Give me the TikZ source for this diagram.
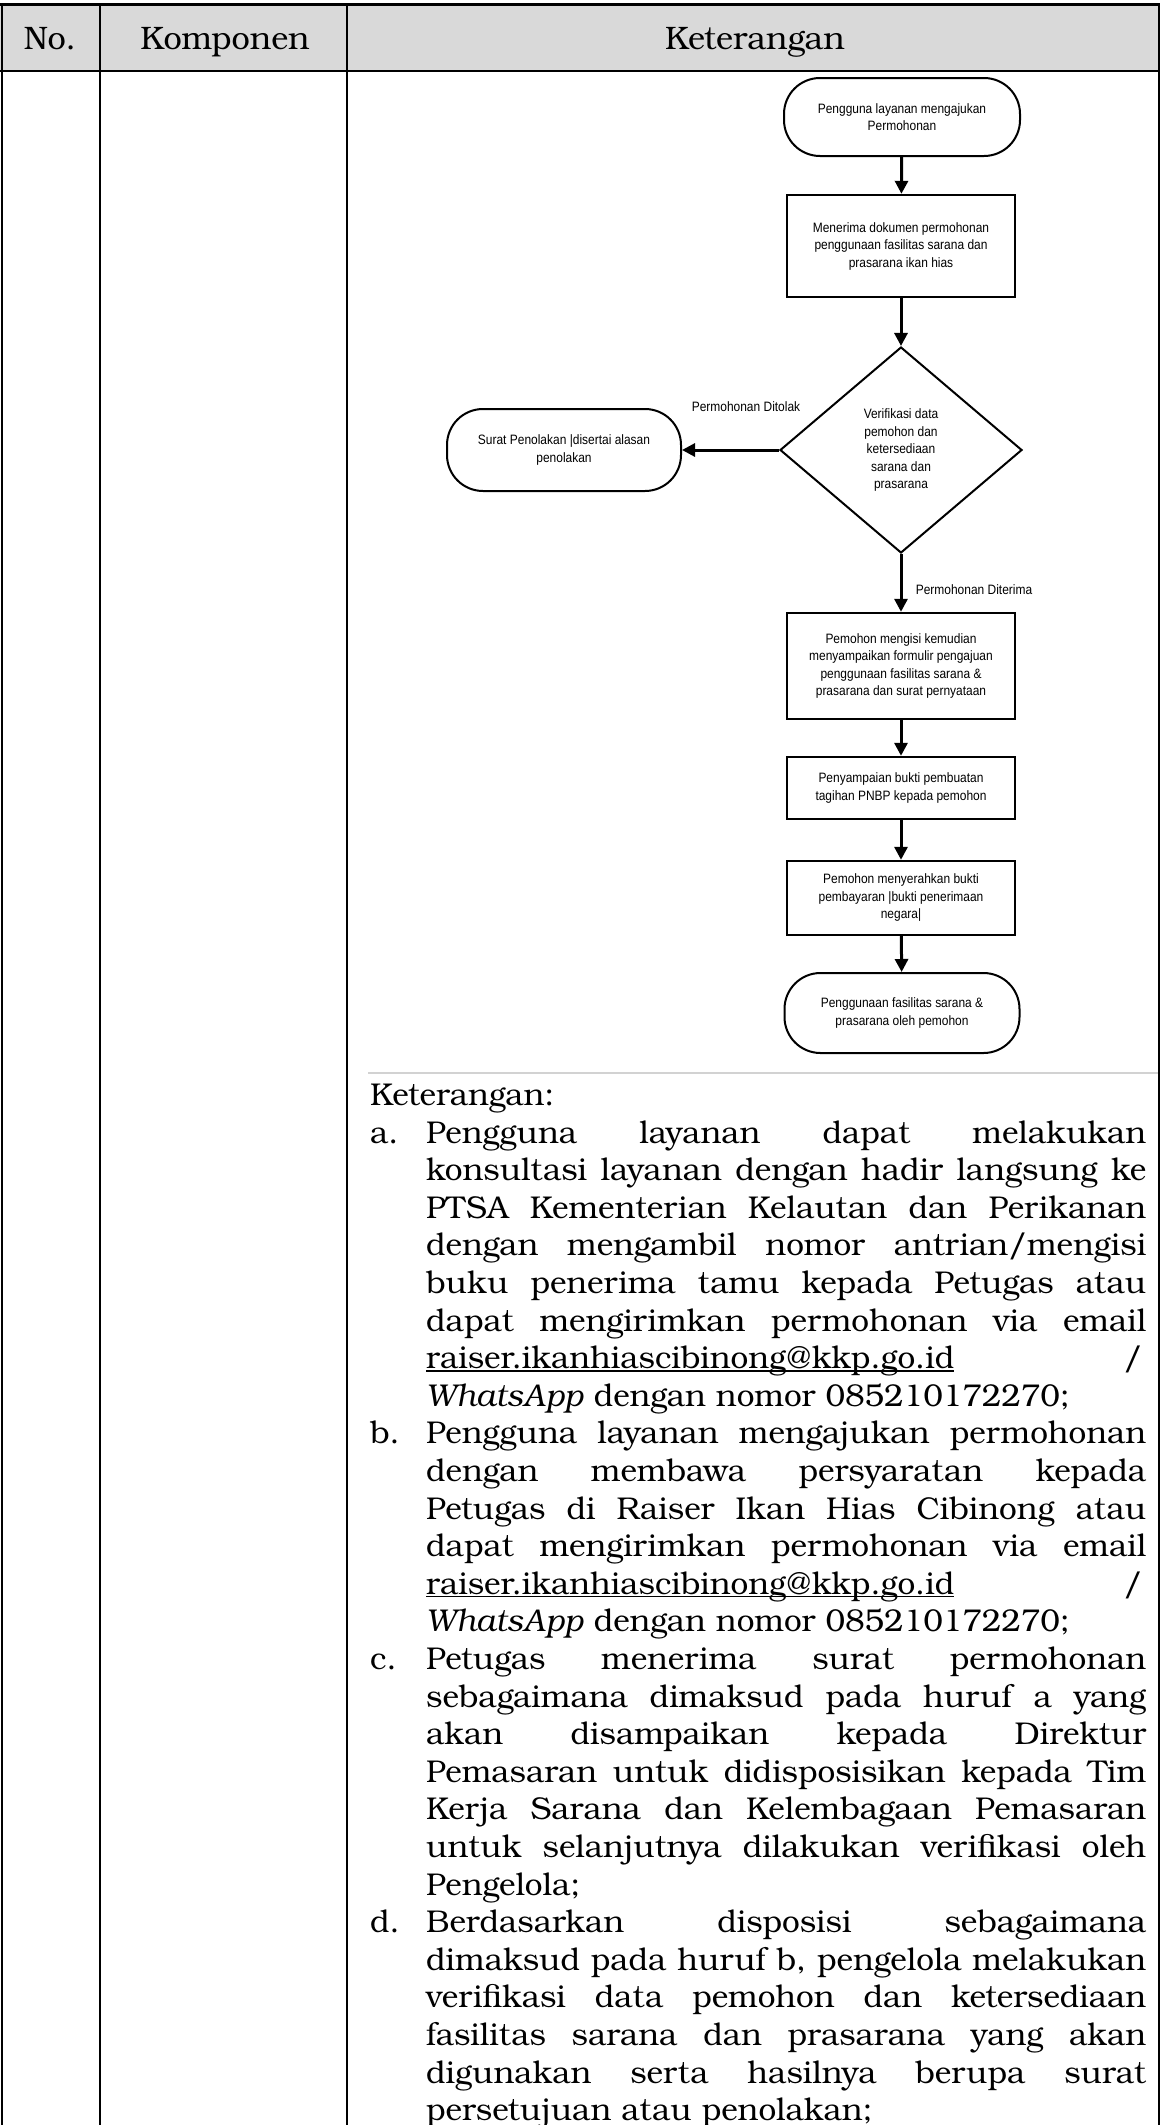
\documentclass[tikz,border=0pt]{standalone}
\usepackage{fontspec}
\setmainfont{texgyrebonum}[Extension=.otf, UprightFont=*-regular, ItalicFont=*-italic, BoldFont=*-bold, BoldItalicFont=*-bolditalic]
\newfontfamily\flowfont{Liberation Sans}[FakeStretch=0.88]
\usetikzlibrary{shapes.geometric, arrows.meta}

\definecolor{headgray}{HTML}{D9D9D9}
\definecolor{rulegray}{HTML}{D2D2D2}

% body text size and justified line helper
\newcommand\bodysize{\fontsize{31.5}{37.6}\selectfont}
\newcommand\headsize{\fontsize{32.5}{38}\selectfont}
\newcommand\jl[1]{\makebox[720pt][s]{#1}}
\newsavebox\ulbox
\newcommand\ulmail[1]{\sbox\ulbox{#1}\rlap{\rule[-3pt]{\wd\ulbox}{1.6pt}}\usebox\ulbox}

\tikzset{
  flow/.style={font=\flowfont\fontsize{13.6}{17.5}\selectfont, align=center, inner sep=0pt},
  procbox/.style={flow, draw, line width=2.4pt, minimum width=228pt},
  termbox/.style={flow, draw, line width=2pt, rounded corners=36pt},
  decision/.style={flow, diamond, draw, line width=2pt, minimum width=242pt, minimum height=206pt},
  flowarrow/.style={-{Triangle[length=13pt,width=13pt]}, line width=3pt},
  flowlabel/.style={flow},
  headtext/.style={anchor=base, inner sep=0pt, font=\headsize},
  bodyline/.style={anchor=base west, inner sep=0pt, font=\bodysize},
}

\begin{document}
\begin{tikzpicture}[x=1pt, y=-1pt]
\useasboundingbox (0,0) rectangle (1160,2125);

% ---- table frame ----
\fill[headgray] (0,5) rectangle (1160,71);
\draw[line width=3pt] (0,5) -- (1160,5);
\draw[line width=2.6pt] (0,71) -- (368,71);
\draw[line width=1.2pt] (368,71) -- (1160,71);
\draw[line width=2.6pt] (2,5) -- (2,2125);
\draw[line width=2.6pt] (100,5) -- (100,2125);
\draw[line width=2.6pt] (347,5) -- (347,2125);
\draw[line width=2pt] (1158.5,5) -- (1158.5,2125);
\draw[rulegray, line width=1.5pt] (368,1073) -- (1158,1073);

\node[headtext] (hno) at (50,50) {No.};
\node[headtext] (hkomp) at (225,50) {Komponen};
\node[headtext] (hket) at (755,50) {Keterangan};

% ---- flowchart ----
\node[termbox, minimum width=236pt, minimum height=78pt] (start) at (902,117)
  {Pengguna layanan mengajukan\\Permohonan};
\node[procbox, minimum height=102pt] (receive) at (901,246)
  {Menerima dokumen permohonan\\penggunaan fasilitas sarana dan\\prasarana ikan hias};
\node[decision] (verify) at (901,450)
  {Verifikasi data\\pemohon dan\\ketersediaan\\sarana dan\\prasarana};
\node[termbox, minimum width=234pt, minimum height=82pt] (reject) at (564,450)
  {Surat Penolakan |disertai alasan\\penolakan};
\node[procbox, minimum height=106pt] (fillform) at (901,666)
  {Pemohon mengisi kemudian\\menyampaikan formulir pengajuan\\penggunaan fasilitas sarana \&\\prasarana dan surat pernyataan};
\node[procbox, minimum height=62pt] (invoice) at (901,788)
  {Penyampaian bukti pembuatan\\tagihan PNBP kepada pemohon};
\node[procbox, minimum height=74pt] (payment) at (901,898)
  {Pemohon menyerahkan bukti\\pembayaran |bukti penerimaan\\negara|};
\node[termbox, minimum width=235pt, minimum height=80pt] (use) at (902,1013)
  {Penggunaan fasilitas sarana \&\\prasarana oleh pemohon};

\node[flowlabel] (lblno) at (746,407) {Permohonan Ditolak};
\node[flowlabel] (lblyes) at (974,590) {Permohonan Diterima};

\draw[flowarrow] (start) -- (receive);
\draw[flowarrow] (receive) -- (verify);
\draw[flowarrow] (verify.west) -- (reject.east);
\draw[flowarrow] (verify.south) -- (fillform.north);
\draw[flowarrow] (fillform) -- (invoice);
\draw[flowarrow] (invoice) -- (payment);
\draw[flowarrow] (payment) -- (use);

% ---- notes ----
\node[bodyline] (ket) at (370,1105.4) {Keterangan:};

\node[bodyline] (ia) at (370,1143.0) {a.};
\node[bodyline] (l0) at (426,1143.0) {\jl{Pengguna layanan dapat melakukan}};
\node[bodyline] (l1) at (426,1180.6) {\jl{konsultasi layanan dengan hadir langsung ke}};
\node[bodyline] (l2) at (426,1218.2) {\jl{PTSA Kementerian Kelautan dan Perikanan}};
\node[bodyline] (l3) at (426,1255.8) {\jl{dengan mengambil nomor antrian/mengisi}};
\node[bodyline] (l4) at (426,1293.4) {\jl{buku penerima tamu kepada Petugas atau}};
\node[bodyline] (l5) at (426,1331.0) {\jl{dapat mengirimkan permohonan via email}};
\node[bodyline] (l6) at (426,1368.6) {\hbox to 716pt{\ulmail{raiser.ikanhiascibinong@kkp.go.id}\hfill/}};
\node[bodyline] (l7) at (426,1406.2) {\textit{WhatsApp} dengan nomor 085210172270;};

\node[bodyline] (ib) at (370,1443.8) {b.};
\node[bodyline] (l8) at (426,1443.8) {\jl{Pengguna layanan mengajukan permohonan}};
\node[bodyline] (l9) at (426,1481.4) {\jl{dengan membawa persyaratan kepada}};
\node[bodyline] (l10) at (426,1519.0) {\jl{Petugas di Raiser Ikan Hias Cibinong atau}};
\node[bodyline] (l11) at (426,1556.6) {\jl{dapat mengirimkan permohonan via email}};
\node[bodyline] (l12) at (426,1594.2) {\hbox to 716pt{\ulmail{raiser.ikanhiascibinong@kkp.go.id}\hfill/}};
\node[bodyline] (l13) at (426,1631.8) {\textit{WhatsApp} dengan nomor 085210172270;};

\node[bodyline] (ic) at (370,1669.4) {c.};
\node[bodyline] (l14) at (426,1669.4) {\jl{Petugas menerima surat permohonan}};
\node[bodyline] (l15) at (426,1707.0) {\jl{sebagaimana dimaksud pada huruf a yang}};
\node[bodyline] (l16) at (426,1744.6) {\jl{akan disampaikan kepada Direktur}};
\node[bodyline] (l17) at (426,1782.2) {\jl{Pemasaran untuk didisposisikan kepada Tim}};
\node[bodyline] (l18) at (426,1819.8) {\jl{Kerja Sarana dan Kelembagaan Pemasaran}};
\node[bodyline] (l19) at (426,1857.4) {\jl{untuk selanjutnya dilakukan verifikasi oleh}};
\node[bodyline] (l20) at (426,1895.0) {Pengelola;};

\node[bodyline] (id) at (370,1932.6) {d.};
\node[bodyline] (l21) at (426,1932.6) {\jl{Berdasarkan disposisi sebagaimana}};
\node[bodyline] (l22) at (426,1970.2) {\jl{dimaksud pada huruf b, pengelola melakukan}};
\node[bodyline] (l23) at (426,2007.8) {\jl{verifikasi data pemohon dan ketersediaan}};
\node[bodyline] (l24) at (426,2045.4) {\jl{fasilitas sarana dan prasarana yang akan}};
\node[bodyline] (l25) at (426,2083.0) {\jl{digunakan serta hasilnya berupa surat}};
\node[bodyline] (l26) at (426,2120.6) {persetujuan atau penolakan;};
\end{tikzpicture}
\end{document}
